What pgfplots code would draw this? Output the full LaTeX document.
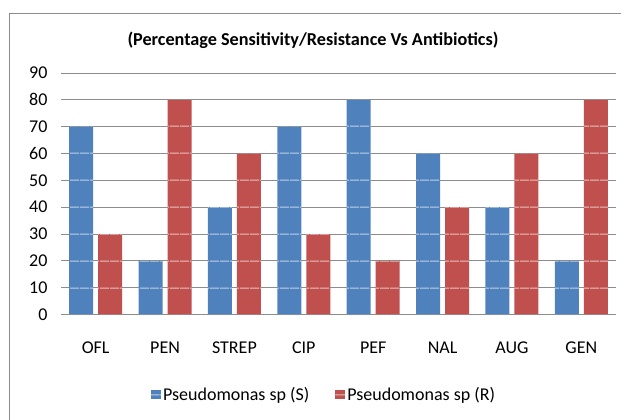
\documentclass[border=0pt]{standalone}
\usepackage{pgfplots}
\pgfplotsset{compat=1.18}
\usepackage{fontspec}
\setmainfont{Carlito}
\usetikzlibrary{patterns}
\definecolor{sblue}{HTML}{4F81BD}
\definecolor{sred}{HTML}{C0504D}
\definecolor{gridgray}{HTML}{8C8C8C}
\pgfdeclarepatternformonly{gridlines}{\pgfpointorigin}{\pgfpoint{10pt}{26.8333pt}}{\pgfpoint{10pt}{26.8333pt}}{%
  \pgfpathrectangle{\pgfpoint{0pt}{24.5pt}}{\pgfpoint{10pt}{1pt}}\pgfusepath{fill}}
\begin{document}
\begin{tikzpicture}[x=1pt,y=1pt]
\useasboundingbox (0,0) rectangle (621,420);
\draw[gridgray, line width=1pt] (9,0) -- (9,406) -- (621,406);
\node[font=\fontsize{18.2}{21}\selectfont\bfseries] at (313,380) {(Percentage Sensitivity/Resistance Vs Antibiotics)};
\begin{axis}[
  at={(61pt,105.5pt)}, anchor=south west,
  scale only axis, width=555pt, height=241.5pt,
  xmin=-0.5, xmax=7.5, ymin=0, ymax=90,
  ytick={0,10,...,90},
  xtick={0,...,7},
  xticklabels={OFL,PEN,STREP,CIP,PEF,NAL,AUG,GEN},
  ymajorgrids,
  major grid style={gridgray, line width=0.9pt},
  axis line style={draw=none},
  major tick length=0pt,
  tick label style={font=\fontsize{18}{21}\selectfont},
  /pgf/number format/assume math mode=true,
  yticklabel style={xshift=-10pt},
  xticklabel style={yshift=-24pt},
  ybar=5pt, bar width=24pt,
  legend style={at={(0.474,-0.333)}, anchor=center, draw=none,
    font=\fontsize{18}{21}\selectfont, legend columns=2,
    /tikz/every even column/.append style={column sep=24pt}},
  legend image code/.code={\draw[#1,draw=none] (0pt,-4.5pt) rectangle (10pt,4.5pt);},
]
\addplot[fill=sblue, draw=none, postaction={pattern=gridlines, pattern color=sblue!35!white}] coordinates {(0,70) (1,20) (2,40) (3,70) (4,80) (5,60) (6,40) (7,20)};
\addplot[fill=sred, draw=none, postaction={pattern=gridlines, pattern color=sred!35!white}] coordinates {(0,30) (1,80) (2,60) (3,30) (4,20) (5,40) (6,60) (7,80)};
\legend{Pseudomonas sp (S), Pseudomonas sp (R)}
\end{axis}
\end{tikzpicture}
\end{document}
